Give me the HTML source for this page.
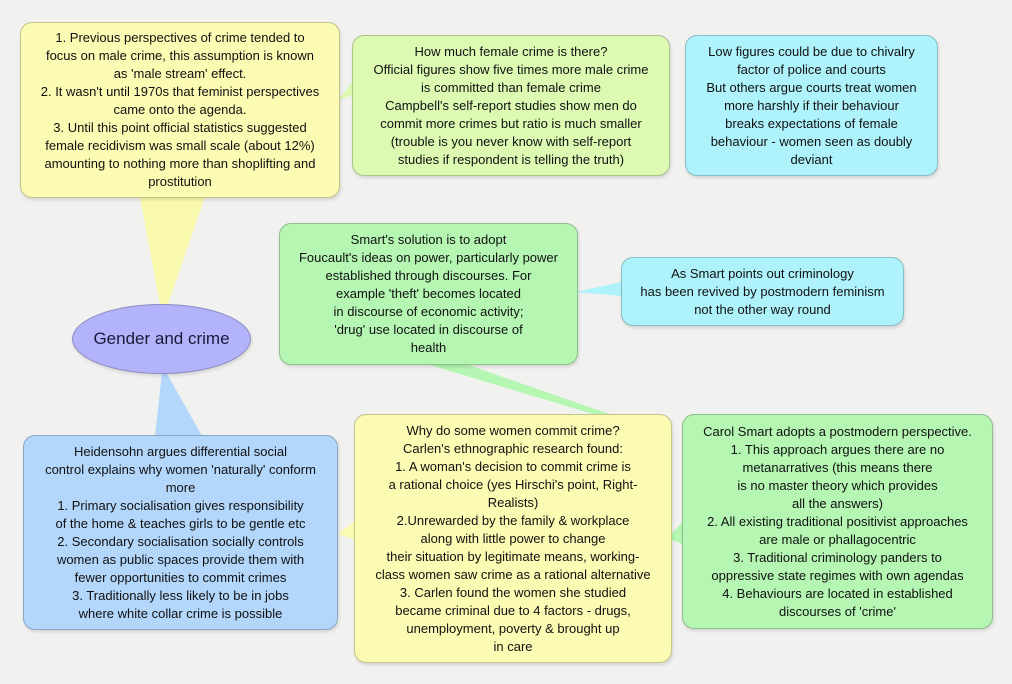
<!DOCTYPE html>
<html><head><meta charset="utf-8"><style>
html,body{margin:0;padding:0}
body{width:1012px;height:684px;background:#f1f1ef;position:relative;overflow:hidden;font-family:"Liberation Sans",Arial,sans-serif}
.b{position:absolute;box-sizing:border-box;border-radius:12px;border:1px solid rgba(0,0,0,0.22);font-size:13px;line-height:18px;text-align:center;color:#111;display:flex;align-items:center;justify-content:center;box-shadow:1px 2px 3px rgba(0,0,0,0.12)}
svg{position:absolute;left:0;top:0}
</style></head><body>
<svg width="1012" height="684">
<polygon points="160,304 168,304 205,197 140,197" fill="#f9f9ae"/>
<polygon points="162,372 166,372 202,436 155,436" fill="#b3d6fb"/>
<polygon points="420,362 460,362 612,415 596,415" fill="#b5f6b3"/>
<polygon points="622,282 622,296 575,292" fill="#aef3fb"/>
<polygon points="354,80 354,95 338,100" fill="#ddfab3"/>
<polygon points="356,520 356,540 338,534" fill="#fbfbb3"/>
<polygon points="684,520 684,545 668,538" fill="#b5f6b3"/>
</svg>
<div class="b" style="left:20px;top:22px;width:320px;height:176px;background:#fbfbb3">1. Previous perspectives of crime tended to<br>focus on male crime, this assumption is known<br>as 'male stream' effect.<br>2. It wasn't until 1970s that feminist perspectives<br>came onto the agenda.<br>3. Until this point official statistics suggested<br>female recidivism was small scale (about 12%)<br>amounting to nothing more than shoplifting and<br>prostitution</div>
<div class="b" style="left:352px;top:35px;width:318px;height:141px;background:#ddfab3">How much female crime is there?<br>Official figures show five times more male crime<br>is committed than female crime<br>Campbell's self-report studies show men do<br>commit more crimes but ratio is much smaller<br>(trouble is you never know with self-report<br>studies if respondent is telling the truth)</div>
<div class="b" style="left:685px;top:35px;width:253px;height:141px;background:#aef3fb">Low figures could be due to chivalry<br>factor of police and courts<br>But others argue courts treat women<br>more harshly if their behaviour<br>breaks expectations of female<br>behaviour - women seen as doubly<br>deviant</div>
<div class="b" style="left:279px;top:223px;width:299px;height:142px;background:#b5f6b3">Smart's solution is to adopt<br>Foucault's ideas on power, particularly power<br>established through discourses. For<br>example 'theft' becomes located<br>in discourse of economic activity;<br>'drug' use located in discourse of<br>health</div>
<div class="b" style="left:621px;top:257px;width:283px;height:69px;background:#aef3fb">As Smart points out criminology<br>has been revived by postmodern feminism<br>not the other way round</div>
<div class="b" style="left:72px;top:304px;width:179px;height:70px;border-radius:50%;background:#b3b3fb;font-size:17px;color:#1a1a3a">Gender and crime</div>
<div class="b" style="left:23px;top:435px;width:315px;height:195px;background:#b3d6fb">Heidensohn argues differential social<br>control explains why women 'naturally' conform<br>more<br>1. Primary socialisation gives responsibility<br>of the home &amp; teaches girls to be gentle etc<br>2. Secondary socialisation socially controls<br>women as public spaces provide them with<br>fewer opportunities to commit crimes<br>3. Traditionally less likely to be in jobs<br>where white collar crime is possible</div>
<div class="b" style="left:354px;top:414px;width:318px;height:249px;background:#fbfbb3">Why do some women commit crime?<br>Carlen's ethnographic research found:<br>1. A woman's decision to commit crime is<br>a rational choice (yes Hirschi's point, Right-<br>Realists)<br>2.Unrewarded by the family &amp; workplace<br>along with little power to change<br>their situation by legitimate means, working-<br>class women saw crime as a rational alternative<br>3. Carlen found the women she studied<br>became criminal due to 4 factors - drugs,<br>unemployment, poverty &amp; brought up<br>in care</div>
<div class="b" style="left:682px;top:414px;width:311px;height:215px;background:#b5f6b3">Carol Smart adopts a postmodern perspective.<br>1. This approach argues there are no<br>metanarratives (this means there<br>is no master theory which provides<br>all the answers)<br>2. All existing traditional positivist approaches<br>are male or phallagocentric<br>3. Traditional criminology panders to<br>oppressive state regimes with own agendas<br>4. Behaviours are located in established<br>discourses of 'crime'</div>
</body></html>
